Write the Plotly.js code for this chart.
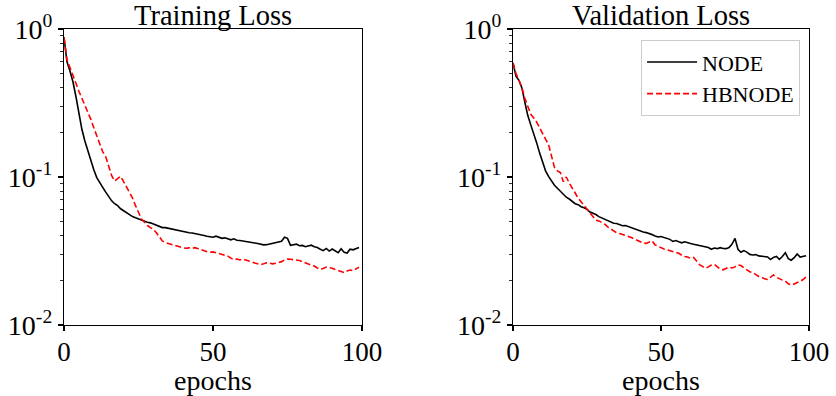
<!DOCTYPE html>
<html>
<head>
<meta charset="utf-8">
<script src="https://cdn.plot.ly/plotly-3.0.1.min.js"></script>
<style>html,body{margin:0;padding:0;background:#fff;}#chart{width:836px;height:396px;}</style>
</head>
<body>
<div id="chart"></div>
<script>
// epochs 0..99
const epochs = Array.from({length: 100}, (_, i) => i);

const trainNODE = [
0.88,0.60,0.52,0.44,0.35,0.27,0.21,0.175,0.150,0.128,
0.112,0.099,0.091,0.085,0.079,0.074,0.069,0.066,0.064,0.061,
0.059,0.057,0.0555,0.054,0.053,0.052,0.0515,0.0505,0.0495,0.049,
0.048,0.047,0.046,0.0455,0.0455,0.045,0.0445,0.044,0.0435,0.043,
0.0428,0.0425,0.042,0.0418,0.0415,0.041,0.0408,0.0402,0.0398,0.0394,
0.0392,0.0398,0.039,0.0385,0.0388,0.038,0.0376,0.0382,0.0374,0.0372,
0.037,0.0368,0.0366,0.0362,0.0358,0.0355,0.035,0.0348,0.0349,0.0352,
0.0356,0.036,0.0363,0.0368,0.0392,0.0385,0.0345,0.0348,0.0352,0.0343,
0.0345,0.0338,0.0342,0.0346,0.0338,0.0334,0.0325,0.0318,0.0329,0.0316,
0.0326,0.0318,0.0308,0.0327,0.031,0.0306,0.0325,0.0322,0.0328,0.0334];

const trainHBNODE = [
0.87,0.62,0.55,0.48,0.43,0.38,0.34,0.31,0.275,0.245,
0.215,0.19,0.165,0.148,0.137,0.12,0.102,0.094,0.097,0.101,
0.093,0.086,0.079,0.072,0.064,0.057,0.052,0.0495,0.047,0.0455,
0.0443,0.042,0.039,0.037,0.036,0.0355,0.0348,0.0343,0.034,0.0335,
0.0332,0.033,0.0332,0.033,0.0333,0.0328,0.0322,0.0318,0.0313,0.031,
0.0312,0.0308,0.0304,0.03,0.0297,0.0292,0.0283,0.0276,0.0279,0.0275,
0.0279,0.0276,0.0272,0.0267,0.0262,0.0258,0.0256,0.0259,0.0263,0.0262,
0.0259,0.0261,0.0264,0.0268,0.0275,0.0279,0.0278,0.0276,0.0277,0.0273,
0.0268,0.0262,0.0258,0.0254,0.025,0.0243,0.0238,0.0241,0.0246,0.0244,
0.0242,0.0237,0.0233,0.0229,0.0226,0.0232,0.0235,0.0233,0.024,0.0246];

const valNODE = [
0.59,0.48,0.45,0.40,0.32,0.26,0.225,0.198,0.17,0.145,
0.125,0.11,0.101,0.094,0.088,0.084,0.080,0.076,0.073,0.071,
0.068,0.066,0.065,0.063,0.062,0.0605,0.058,0.057,0.0558,0.054,
0.053,0.0515,0.0505,0.0495,0.0487,0.0485,0.0478,0.0468,0.047,0.0462,
0.0452,0.0445,0.0437,0.0428,0.0425,0.0421,0.0416,0.0408,0.04,0.0393,
0.0396,0.039,0.0383,0.0379,0.0367,0.0372,0.0365,0.0359,0.0365,0.0358,
0.0355,0.0351,0.0347,0.0342,0.034,0.0336,0.0334,0.0325,0.0331,0.0328,
0.0333,0.0329,0.0328,0.0334,0.0352,0.0385,0.0325,0.031,0.0318,0.0311,
0.03,0.0297,0.0299,0.0293,0.0291,0.0292,0.0288,0.0277,0.0286,0.0291,
0.0278,0.029,0.0308,0.0281,0.0274,0.0285,0.0302,0.0288,0.0292,0.0294];

const valHBNODE = [
0.59,0.50,0.45,0.40,0.34,0.295,0.265,0.25,0.235,0.215,
0.195,0.18,0.166,0.14,0.116,0.11,0.107,0.093,0.10,0.091,
0.085,0.078,0.072,0.068,0.064,0.061,0.057,0.054,0.051,0.0505,
0.0495,0.048,0.046,0.0445,0.0435,0.042,0.0415,0.041,0.0402,0.0396,
0.039,0.0382,0.0372,0.0364,0.0358,0.0356,0.0365,0.037,0.0348,0.0339,
0.0332,0.0326,0.0322,0.0318,0.0315,0.0312,0.0305,0.0296,0.029,0.0288,
0.0282,0.0286,0.0271,0.0256,0.0249,0.0242,0.0247,0.0254,0.0257,0.0246,
0.0239,0.0236,0.0242,0.0246,0.0243,0.0247,0.0255,0.0252,0.0243,0.0235,
0.0229,0.0226,0.0219,0.0213,0.021,0.0205,0.0203,0.0212,0.0218,0.021,
0.0205,0.0201,0.0198,0.019,0.0186,0.0189,0.0194,0.0197,0.0203,0.0211];

const seriesNames = ['NODE', 'HBNODE'];
const panelTitles = ['Training Loss', 'Validation Loss'];
const xTickVals = [0, 50, 100];
const yTickVals = [0.01, 0.1, 1];
const yTickText = ['10<sup>-2</sup>', '10<sup>-1</sup>', '10<sup>0</sup>'];
const xLabel = 'epochs';

const FONT = 'Liberation Serif, Times New Roman, serif';
const minorVals = [];
[0.01, 0.1].forEach(d => { for (let k = 2; k <= 9; k++) minorVals.push(d * k); });

const blackLine = {color: '#000000', width: 1.6};
const redLine = {color: '#ff0000', width: 1.6, dash: '6px,3px'};

const traces = [
  {x: epochs, y: trainNODE, name: seriesNames[0], mode: 'lines', line: blackLine, xaxis: 'x', yaxis: 'y', showlegend: false},
  {x: epochs, y: trainHBNODE, name: seriesNames[1], mode: 'lines', line: redLine, xaxis: 'x', yaxis: 'y', showlegend: false},
  {x: epochs, y: valNODE, name: seriesNames[0], mode: 'lines', line: blackLine, xaxis: 'x2', yaxis: 'y2'},
  {x: epochs, y: valHBNODE, name: seriesNames[1], mode: 'lines', line: redLine, xaxis: 'x2', yaxis: 'y2'}
];

function xAxis(domain, anchor) {
  return {
    domain: domain, anchor: anchor, range: [0, 100], tickvals: xTickVals,
    showline: true, mirror: true, linecolor: '#000', linewidth: 1.2,
    ticks: 'outside', ticklen: 5, tickwidth: 1.2, tickcolor: '#000',
    ticklabelstandoff: -3,
    showgrid: false, zeroline: false,
    tickfont: {family: FONT, size: 27, color: '#000'},
    title: {text: xLabel, font: {family: FONT, size: 28, color: '#000'}, standoff: 2}
  };
}
function yAxis(anchor) {
  return {
    type: 'log', range: [-2, 0], anchor: anchor,
    tickvals: yTickVals, ticktext: yTickText,
    showline: true, mirror: true, linecolor: '#000', linewidth: 1.2,
    ticks: 'outside', ticklen: 5, tickwidth: 1.2, tickcolor: '#000',
    minor: {tickvals: minorVals, ticks: 'outside', ticklen: 3, tickwidth: 0.8, tickcolor: '#000', showgrid: false},
    showgrid: false, zeroline: false,
    tickfont: {family: FONT, size: 28, color: '#000'}
  };
}

const layout = {
  width: 836, height: 396,
  margin: {l: 64, r: 27, t: 29, b: 71},
  paper_bgcolor: '#fff', plot_bgcolor: '#fff',
  font: {family: FONT, color: '#000'},
  xaxis: xAxis([0, 0.4], 'y'),
  yaxis: yAxis('x'),
  xaxis2: xAxis([0.6027, 1], 'y2'),
  yaxis2: yAxis('x2'),
  showlegend: true,
  legend: {
    x: 0.988, y: 0.962, xanchor: 'right', yanchor: 'top', xref: 'paper', yref: 'paper',
    bgcolor: '#fff', bordercolor: '#cccccc', borderwidth: 1, itemwidth: 50,
    font: {family: FONT, size: 22, color: '#000'}
  },
  annotations: panelTitles.map((t, i) => ({
    text: t, xref: (i === 0 ? 'x' : 'x2') + ' domain', yref: 'paper',
    x: 0.5, y: 1, xanchor: 'center', yanchor: 'bottom', yshift: -4, showarrow: false,
    font: {family: FONT, size: 28.5, color: '#000'}
  }))
};

Plotly.newPlot('chart', traces, layout, {staticPlot: true, displayModeBar: false});
</script>
</body>
</html>
